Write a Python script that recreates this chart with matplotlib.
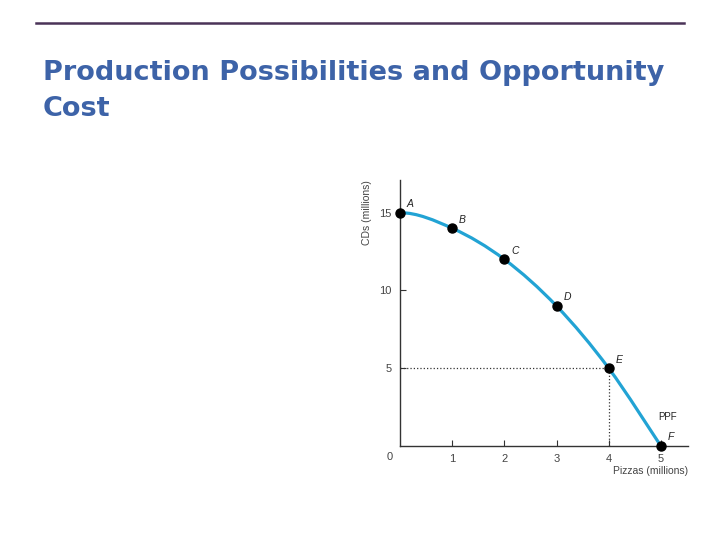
import matplotlib
matplotlib.use('Agg')
import matplotlib.pyplot as plt
from matplotlib.path import Path
from matplotlib.patches import PathPatch
from matplotlib.lines import Line2D
plt.rcParams['font.family'] = ['Liberation Sans', 'DejaVu Sans']

TITLE = 'Production Possibilities and Opportunity\nCost'
points = ['A', 'B', 'C', 'D', 'E', 'F']
pizzas = [0, 1, 2, 3, 4, 5]
cds = [15, 14, 12, 9, 5, 0]
xticks = [1, 2, 3, 4, 5]
yticks = [5, 10, 15]

BLUE = '#3d63a8'; PURPLE = '#4a3358'; CURVE = '#22a3d4'; GREY = '#444444'

fig = plt.figure(figsize=(7.2, 5.4), dpi=100)
fig.patch.set_facecolor('white')
fig.add_artist(Line2D([36/720, 684/720], [1-23/540, 1-23/540], color=PURPLE, lw=1.8))
fig.text(43/720, 1-80/540, TITLE.split('\n')[0], ha='left', va='baseline', fontsize=19.5,
         weight='bold', color=BLUE, family='DejaVu Sans')
fig.text(43/720, 1-116/540, TITLE.split('\n')[1], ha='left', va='baseline', fontsize=19.5,
         weight='bold', color=BLUE, family='DejaVu Sans')

ax = fig.add_axes([400/720, 1-446/540, 288/720, 266/540])
ax.set_xlim(0, 5.52); ax.set_ylim(0, 17.1)
for s in ['top', 'right']:
    ax.spines[s].set_visible(False)
for s in ['left', 'bottom']:
    ax.spines[s].set_color('#333333'); ax.spines[s].set_linewidth(1.0)

# smooth curve through the points (Catmull-Rom -> cubic Bezier), flat start at A
verts = [(pizzas[0], cds[0])]; codes = [Path.MOVETO]
n = len(pizzas)
for i in range(n - 1):
    p0 = (pizzas[max(i-1, 0)], cds[max(i-1, 0)])
    p1 = (pizzas[i], cds[i]); p2 = (pizzas[i+1], cds[i+1])
    p3 = (pizzas[min(i+2, n-1)], cds[min(i+2, n-1)])
    if i == 0:
        c1 = (p1[0] + (p2[0]-p1[0])/3, p1[1])
    else:
        c1 = (p1[0] + (p2[0]-p0[0])/6, p1[1] + (p2[1]-p0[1])/6)
    c2 = (p2[0] - (p3[0]-p1[0])/6, p2[1] - (p3[1]-p1[1])/6)
    verts += [c1, c2, p2]; codes += [Path.CURVE4]*3
ax.add_patch(PathPatch(Path(verts, codes), fc='none', ec=CURVE, lw=2.3, zorder=2))

# dotted guides at point E
ax.plot([0, pizzas[4]], [cds[4], cds[4]], color='#333333', ls=':', lw=0.9, zorder=1)
ax.plot([pizzas[4], pizzas[4]], [0, cds[4]], color='#333333', ls=':', lw=0.9, zorder=1)

ax.plot(pizzas, cds, 'o', color='black', ms=6.5, zorder=3, clip_on=False)
for lab, x, y in zip(points, pizzas, cds):
    ax.annotate(lab, (x, y), xytext=(5, 4), textcoords='offset points', fontsize=7.5,
                style='italic', color='#222222')
ax.text(5.12, 1.85, 'PPF', ha='center', va='center', fontsize=7, color='#222222')

ax.set_xticks(xticks); ax.set_yticks(yticks)
ax.tick_params(direction='in', length=4, width=0.8, colors='#333333', labelsize=8,
               labelcolor=GREY, pad=6)
ax.text(-0.2, -0.7, '0', ha='center', va='center', fontsize=8, color=GREY)
ax.text(5.52, -1.6, 'Pizzas (millions)', ha='right', va='center', fontsize=7.5, color=GREY)
ax.text(-0.63, 17.1, 'CDs (millions)', ha='center', va='top', rotation=90, fontsize=7.5,
        color=GREY)

plt.savefig('out.png', dpi=100, facecolor='white')
